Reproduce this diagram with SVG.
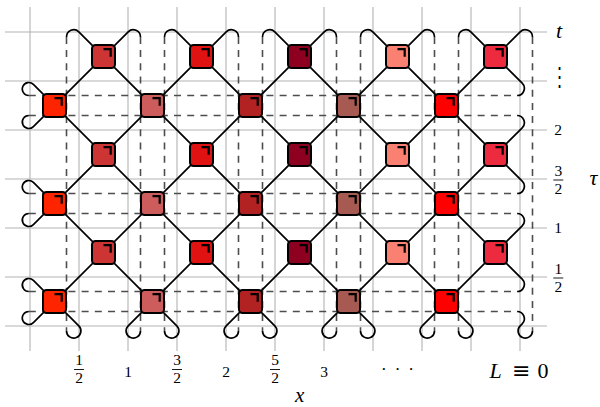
<svg xmlns="http://www.w3.org/2000/svg" width="600" height="407" viewBox="0 0 600 407">
<style>
.grid{stroke:#b3b3b3;stroke-width:1.1;fill:none}
.leg{stroke:#000;stroke-width:1.7;fill:none;stroke-linejoin:round}
.dash{stroke:#4d4d4d;stroke-width:1.6;stroke-dasharray:7 6.2;fill:none}
.node rect{stroke:#000;stroke-width:2}
.mark{stroke:#000;stroke-width:2.2;fill:none;stroke-linecap:butt;stroke-linejoin:miter}
.num{font-family:"Liberation Serif","DejaVu Serif",serif;font-size:15.5px;text-anchor:middle;fill:#000}
.var{font-family:"Liberation Serif","DejaVu Serif",serif;font-style:italic;font-size:22px;fill:#000}
.bar{stroke:#000;stroke-width:0.9}
</style>
<rect width="600" height="407" fill="#fff"/>
<g id="grid" class="grid">
<path d="M5,32H547M5,81H547M5,130H547M5,179H547M5,228H547M5,277H547M5,326H547"/>
<path d="M30,7V351M79,7V351M128,7V351M177,7V351M226,7V351M275,7V351M324,7V351M373,7V351M422,7V351M471,7V351M520,7V351"/>
</g>
<g id="connectors">
<g id="dashed" class="dash">
<path d="M66.5,36.88V330.88M140.5,36.88V330.88M164.5,36.88V330.88M238.5,36.88V330.88M262.5,36.88V330.88M336.5,36.88V330.88M360.5,36.88V330.88M434.5,36.88V330.88M458.5,36.88V330.88M532.5,36.88V330.88"/>
<path d="M28.81,95.5H517.12M28.81,115.5H517.12M28.81,193.5H517.12M28.81,213.5H517.12M28.81,291.5H517.12M28.81,311.5H517.12"/>
</g>
<g id="legs" class="leg">
<path d="M66.5,36.88A7.2,7.2 0 0 1 78.79,31.79L372.79,325.79A7.2,7.2 0 1 1 360.5,330.88"/>
<path d="M164.5,36.88A7.2,7.2 0 0 1 176.79,31.79L470.79,325.79A7.2,7.2 0 1 1 458.5,330.88"/>
<path d="M262.5,36.88A7.2,7.2 0 0 1 274.79,31.79L522.21,279.21A7.2,7.2 0 0 1 517.12,291.5"/>
<path d="M360.5,36.88A7.2,7.2 0 0 1 372.79,31.79L522.21,181.21A7.2,7.2 0 0 1 517.12,193.5"/>
<path d="M458.5,36.88A7.2,7.2 0 0 1 470.79,31.79L522.21,83.21A7.2,7.2 0 0 1 517.12,95.5"/>
<path d="M28.81,95.5A6.5,6.5 0 1 1 33.4,84.4L274.79,325.79A7.2,7.2 0 1 1 262.5,330.88"/>
<path d="M28.81,193.5A6.5,6.5 0 1 1 33.4,182.4L176.79,325.79A7.2,7.2 0 1 1 164.5,330.88"/>
<path d="M28.81,291.5A6.5,6.5 0 1 1 33.4,280.4L78.79,325.79A7.2,7.2 0 1 1 66.5,330.88"/>
<path d="M140.5,36.88A7.2,7.2 0 0 0 128.21,31.79L33.4,126.6A6.5,6.5 0 1 1 28.81,115.5"/>
<path d="M238.5,36.88A7.2,7.2 0 0 0 226.21,31.79L33.4,224.6A6.5,6.5 0 1 1 28.81,213.5"/>
<path d="M336.5,36.88A7.2,7.2 0 0 0 324.21,31.79L33.4,322.6A6.5,6.5 0 1 1 28.81,311.5"/>
<path d="M434.5,36.88A7.2,7.2 0 0 0 422.21,31.79L128.21,325.79A7.2,7.2 0 1 0 140.5,330.88"/>
<path d="M532.5,36.88A7.2,7.2 0 0 0 520.21,31.79L226.21,325.79A7.2,7.2 0 1 0 238.5,330.88"/>
<path d="M517.12,115.5A7.2,7.2 0 0 1 522.21,127.79L324.21,325.79A7.2,7.2 0 1 0 336.5,330.88"/>
<path d="M517.12,213.5A7.2,7.2 0 0 1 522.21,225.79L422.21,325.79A7.2,7.2 0 1 0 434.5,330.88"/>
<path d="M517.12,311.5A7.2,7.2 0 0 1 522.21,323.8L520.21,325.78A7.2,7.2 0 1 0 532.5,330.88"/>
</g>
</g>
<g id="nodes">
<g id="n-1-1" class="node"><rect x="92" y="45" width="23" height="23" rx="3.5" fill="#cd3535"/><path class="mark" d="M103.5,49.2h7.2v7.6"/></g>
<g id="n-1-2" class="node"><rect x="190" y="45" width="23" height="23" rx="3.5" fill="#e01212"/><path class="mark" d="M201.5,49.2h7.2v7.6"/></g>
<g id="n-1-3" class="node"><rect x="288" y="45" width="23" height="23" rx="3.5" fill="#8e0020"/><path class="mark" d="M299.5,49.2h7.2v7.6"/></g>
<g id="n-1-4" class="node"><rect x="386" y="45" width="23" height="23" rx="3.5" fill="#fa8072"/><path class="mark" d="M397.5,49.2h7.2v7.6"/></g>
<g id="n-1-5" class="node"><rect x="484" y="45" width="23" height="23" rx="3.5" fill="#ee2a3e"/><path class="mark" d="M495.5,49.2h7.2v7.6"/></g>
<g id="n-2-1" class="node"><rect x="43" y="94" width="23" height="23" rx="3.5" fill="#ff2400"/><path class="mark" d="M54.5,98.2h7.2v7.6"/></g>
<g id="n-2-2" class="node"><rect x="141" y="94" width="23" height="23" rx="3.5" fill="#cd5c5c"/><path class="mark" d="M152.5,98.2h7.2v7.6"/></g>
<g id="n-2-3" class="node"><rect x="239" y="94" width="23" height="23" rx="3.5" fill="#b22222"/><path class="mark" d="M250.5,98.2h7.2v7.6"/></g>
<g id="n-2-4" class="node"><rect x="337" y="94" width="23" height="23" rx="3.5" fill="#a65a52"/><path class="mark" d="M348.5,98.2h7.2v7.6"/></g>
<g id="n-2-5" class="node"><rect x="435" y="94" width="23" height="23" rx="3.5" fill="#ff0000"/><path class="mark" d="M446.5,98.2h7.2v7.6"/></g>
<g id="n-3-1" class="node"><rect x="92" y="143" width="23" height="23" rx="3.5" fill="#cd3535"/><path class="mark" d="M103.5,147.2h7.2v7.6"/></g>
<g id="n-3-2" class="node"><rect x="190" y="143" width="23" height="23" rx="3.5" fill="#e01212"/><path class="mark" d="M201.5,147.2h7.2v7.6"/></g>
<g id="n-3-3" class="node"><rect x="288" y="143" width="23" height="23" rx="3.5" fill="#8e0020"/><path class="mark" d="M299.5,147.2h7.2v7.6"/></g>
<g id="n-3-4" class="node"><rect x="386" y="143" width="23" height="23" rx="3.5" fill="#fa8072"/><path class="mark" d="M397.5,147.2h7.2v7.6"/></g>
<g id="n-3-5" class="node"><rect x="484" y="143" width="23" height="23" rx="3.5" fill="#ee2a3e"/><path class="mark" d="M495.5,147.2h7.2v7.6"/></g>
<g id="n-4-1" class="node"><rect x="43" y="192" width="23" height="23" rx="3.5" fill="#ff2400"/><path class="mark" d="M54.5,196.2h7.2v7.6"/></g>
<g id="n-4-2" class="node"><rect x="141" y="192" width="23" height="23" rx="3.5" fill="#cd5c5c"/><path class="mark" d="M152.5,196.2h7.2v7.6"/></g>
<g id="n-4-3" class="node"><rect x="239" y="192" width="23" height="23" rx="3.5" fill="#b22222"/><path class="mark" d="M250.5,196.2h7.2v7.6"/></g>
<g id="n-4-4" class="node"><rect x="337" y="192" width="23" height="23" rx="3.5" fill="#a65a52"/><path class="mark" d="M348.5,196.2h7.2v7.6"/></g>
<g id="n-4-5" class="node"><rect x="435" y="192" width="23" height="23" rx="3.5" fill="#ff0000"/><path class="mark" d="M446.5,196.2h7.2v7.6"/></g>
<g id="n-5-1" class="node"><rect x="92" y="241" width="23" height="23" rx="3.5" fill="#cd3535"/><path class="mark" d="M103.5,245.2h7.2v7.6"/></g>
<g id="n-5-2" class="node"><rect x="190" y="241" width="23" height="23" rx="3.5" fill="#e01212"/><path class="mark" d="M201.5,245.2h7.2v7.6"/></g>
<g id="n-5-3" class="node"><rect x="288" y="241" width="23" height="23" rx="3.5" fill="#8e0020"/><path class="mark" d="M299.5,245.2h7.2v7.6"/></g>
<g id="n-5-4" class="node"><rect x="386" y="241" width="23" height="23" rx="3.5" fill="#fa8072"/><path class="mark" d="M397.5,245.2h7.2v7.6"/></g>
<g id="n-5-5" class="node"><rect x="484" y="241" width="23" height="23" rx="3.5" fill="#ee2a3e"/><path class="mark" d="M495.5,245.2h7.2v7.6"/></g>
<g id="n-6-1" class="node"><rect x="43" y="290" width="23" height="23" rx="3.5" fill="#ff2400"/><path class="mark" d="M54.5,294.2h7.2v7.6"/></g>
<g id="n-6-2" class="node"><rect x="141" y="290" width="23" height="23" rx="3.5" fill="#cd5c5c"/><path class="mark" d="M152.5,294.2h7.2v7.6"/></g>
<g id="n-6-3" class="node"><rect x="239" y="290" width="23" height="23" rx="3.5" fill="#b22222"/><path class="mark" d="M250.5,294.2h7.2v7.6"/></g>
<g id="n-6-4" class="node"><rect x="337" y="290" width="23" height="23" rx="3.5" fill="#a65a52"/><path class="mark" d="M348.5,294.2h7.2v7.6"/></g>
<g id="n-6-5" class="node"><rect x="435" y="290" width="23" height="23" rx="3.5" fill="#ff0000"/><path class="mark" d="M446.5,294.2h7.2v7.6"/></g>
</g>
<g id="labels">
<g id="x-axis">
<text class="num" x="79" y="365.3">1</text><line class="bar" x1="74" y1="369.5" x2="84" y2="369.5"/><text class="num" x="79" y="383.3">2</text>
<text class="num" x="128" y="377.3">1</text>
<text class="num" x="177" y="365.3">3</text><line class="bar" x1="172" y1="369.5" x2="182" y2="369.5"/><text class="num" x="177" y="383.3">2</text>
<text class="num" x="226" y="377.3">2</text>
<text class="num" x="275" y="365.3">5</text><line class="bar" x1="270" y1="369.5" x2="280" y2="369.5"/><text class="num" x="275" y="383.3">2</text>
<text class="num" x="324" y="377.3">3</text>
<text x="381" y="375" style="font-family:'Liberation Serif',serif;font-size:17px;letter-spacing:8px">···</text>
<text y="378.3" style="font-family:'Liberation Serif','DejaVu Serif',serif;font-size:22px"><tspan x="489.5" font-style="italic">L</tspan><tspan x="512" style="font-family:'DejaVu Serif',serif;font-size:22px">≡</tspan><tspan x="537.5">0</tspan></text>
<text class="var" x="299.7" y="401.5" text-anchor="middle" style="font-size:21px">x</text>
</g>
<g id="tau-axis">
<text class="var" x="559" y="37.5" text-anchor="middle">t</text>
<text x="0" y="0" text-anchor="middle" transform="translate(559.5,85.5) scale(0.85,1.3)" style="font-family:'DejaVu Serif',serif;font-size:20px">⋮</text>
<text class="num" x="558" y="135">2</text>
<text class="num" x="558.3" y="175.6">3</text><line class="bar" x1="553.3" y1="180" x2="563.3" y2="180"/><text class="num" x="558.3" y="193.7">2</text>
<text class="num" x="558" y="233">1</text>
<text class="num" x="558.3" y="273.7">1</text><line class="bar" x1="553.3" y1="278" x2="563.3" y2="278"/><text class="num" x="558.3" y="291.8">2</text>
<text class="var" x="593.5" y="185" text-anchor="middle">τ</text>
</g>
</g>
</svg>
